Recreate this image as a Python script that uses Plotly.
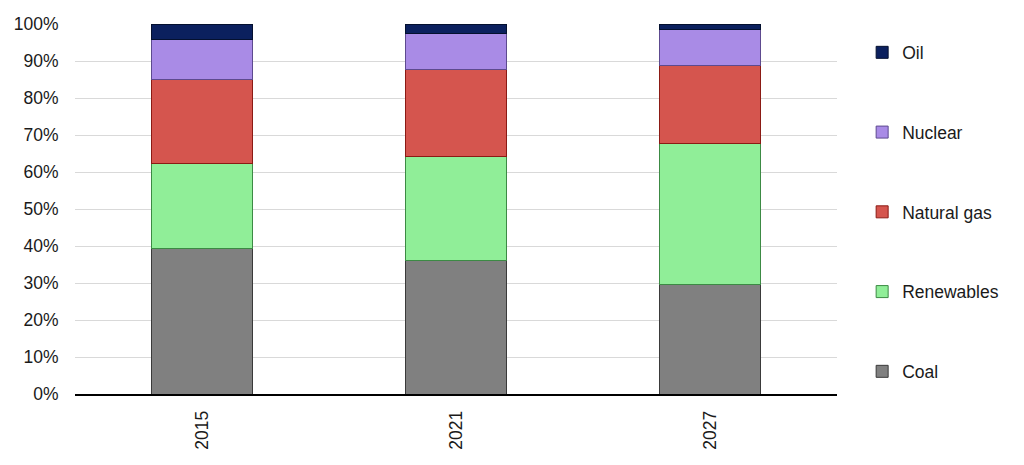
import plotly.graph_objects as go

# years on the category axis
years = ["2015", "2021", "2027"]

# share of each source, in percent
coal = [39.4, 36.2, 29.6]
renewables = [22.8, 28.1, 38.1]
natural_gas = [22.9, 23.3, 21.2]
nuclear = [10.6, 9.9, 9.5]
oil = [4.3, 2.5, 1.6]

# y-axis ticks
y_ticks = list(range(0, 101, 10))
y_labels = [f"{v}%" for v in y_ticks]

series = [
    ("Coal", coal, "#808080", "#3a3a3a"),
    ("Renewables", renewables, "#90ee98", "#3c8a44"),
    ("Natural gas", natural_gas, "#d5554e", "#8b1a14"),
    ("Nuclear", nuclear, "#a98be6", "#5d4a8f"),
    ("Oil", oil, "#0b205e", "#04102f"),
]

fig = go.Figure()
for i, (name, vals, color, edge) in enumerate(series):
    fig.add_trace(go.Bar(
        x=years, y=vals, name=name, legendgroup=name,
        legendrank=100 - i,  # Oil on top of the legend, like the stack
        marker=dict(color=color, line=dict(color=edge, width=1)),
    ))

# the page body adds an 8px margin, so the figure is a bit smaller
fig.update_layout(
    barmode="stack",
    bargap=0.6,
    width=1016, height=457,
    margin=dict(l=67, r=187, t=16, b=71, autoexpand=False),
    plot_bgcolor="white",
    paper_bgcolor="white",
    font=dict(family="Liberation Sans, Arial", size=17.5, color="#1a1a1a"),
    legend=dict(
        traceorder="grouped",
        tracegroupgap=54,
        x=1.033, xanchor="left",
        y=0.492, yanchor="middle",
        font=dict(size=17.5),
        itemwidth=30,
    ),
    showlegend=True,
)

fig.update_yaxes(
    range=[0, 100],
    tickvals=y_ticks,
    ticktext=y_labels,
    showgrid=True, gridcolor="#d9d9d9", gridwidth=1,
    zeroline=False,
    automargin=False,
    ticks="outside", ticklen=12, tickcolor="rgba(0,0,0,0)",
)
fig.update_xaxes(
    tickangle=-90,
    showline=True, linecolor="black", linewidth=1.5,
    showgrid=False,
    automargin=False,
    ticks="outside", ticklen=8, tickcolor="rgba(0,0,0,0)",
)

fig.write_html("out.html")
